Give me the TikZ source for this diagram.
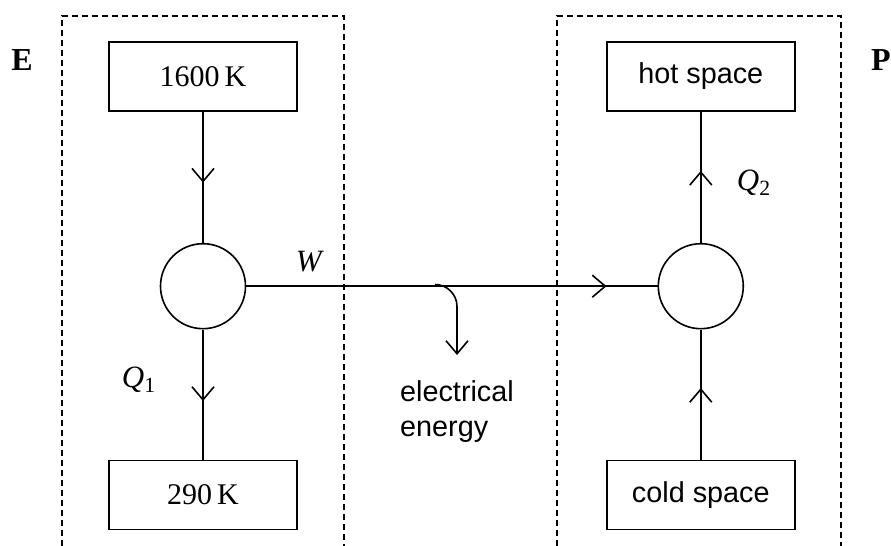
\documentclass[tikz,border=0pt]{standalone}
\usepackage{amsmath}
\usepackage{fontspec}
\setmainfont{Liberation Serif}
\setsansfont{Liberation Sans}
\usetikzlibrary{arrows.meta, positioning, decorations.markings}

\begin{document}
\begin{tikzpicture}[
    x=0.5pt, y=-0.5pt,
    every node/.style={inner sep=0pt},
    resbox/.style={
      rectangle, draw=black, line width=0.9pt,
      minimum width=94pt, minimum height=34.5pt,
      font=\fontsize{15}{18}\selectfont
    },
    spacebox/.style={
      resbox, font=\sffamily\fontsize{14.4}{17.5}\selectfont
    },
    engine/.style={
      circle, draw=black, line width=0.8pt, minimum size=42.5pt
    },
    zone/.style={dash pattern=on 3pt off 2pt, line width=0.8pt},
    flow/.style={
      line width=0.8pt, postaction={decorate},
      decoration={markings,
        mark=at position #1 with {\arrow{Straight Barb[length=6.5pt,width=11pt]}}}
    },
    arr/.style={-{Straight Barb[length=6.5pt,width=11pt]}, line width=0.8pt},
    lbl/.style={font=\fontsize{15.5}{18}\selectfont}
  ]
    \useasboundingbox (0,0) rectangle (891,546);

    \draw[zone] (62,546) |- (344,16) -- (344,546);
    \draw[zone] (557,546) |- (841,16) -- (841,546);

    \node[lbl, font=\fontsize{16}{18}\selectfont] (elab) at (22,60) {\textbf{E}};
    \node[lbl, font=\fontsize{16}{18}\selectfont] (plab) at (881,60) {\textbf{P}};

    \node[resbox] (hotres) at (203,76.5) {1600\,K};
    \node[engine, below=65.5pt of hotres] (heng) {};
    \node[resbox, below=65pt of heng] (coldres) {290\,K};

    \node[spacebox, right=154pt of hotres] (hot) {hot space};
    \node[engine, below=65.5pt of hot] (peng) {};
    \node[spacebox, right=154pt of coldres] (cold) {cold space};

    \coordinate (tap) at (435,284.5);
    \coordinate (sink) at (457,355);

    \node[spacebox, draw=none, minimum width=0pt, minimum height=0pt,
          align=left, below=12.5pt of sink] (elec) {electrical\\energy};

    \node[lbl] (wlab) at (310,262) {\textit{W}};
    \node[lbl] (q1lab) at (139,380) {\textit{Q}$_{\textrm{1}}$};
    \node[lbl] (q2lab) at (754,183) {\textit{Q}$_{\textrm{2}}$};

    \draw[flow=0.54] (hotres) -- (heng);
    \draw[flow=0.55] (heng) -- (coldres);
    \draw[flow=0.55] (peng) -- (hot);
    \draw[flow=0.55] (cold) -- (peng);
    \draw[flow=0.876] (heng) -- (peng);
    \draw[arr, rounded corners=11pt] (tap) -| (sink);
  \end{tikzpicture}
\end{document}
